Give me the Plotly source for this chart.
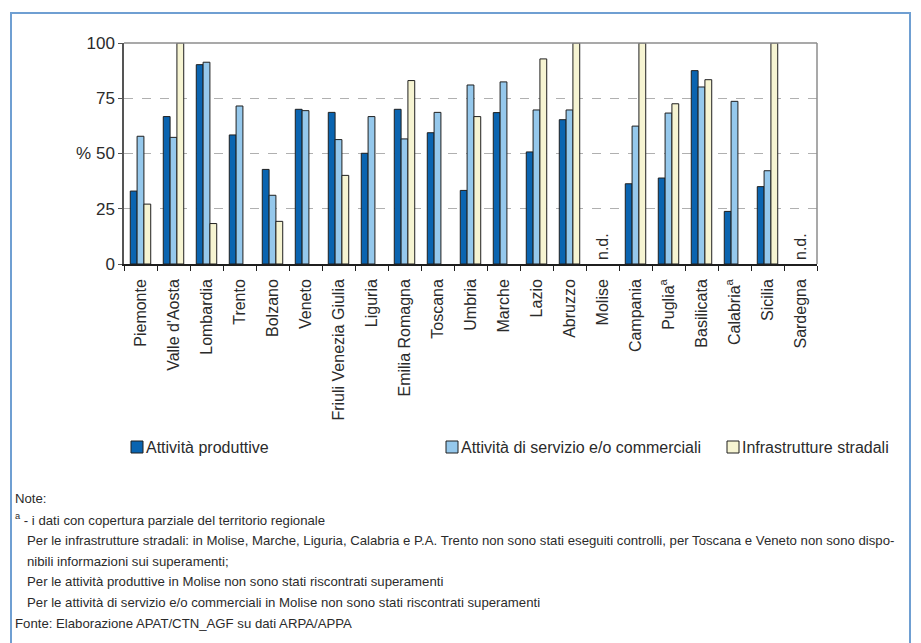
import plotly.graph_objects as go

# regioni e valori (%)
regioni = ["Piemonte", "Valle d'Aosta", "Lombardia", "Trento", "Bolzano", "Veneto",
           "Friuli Venezia Giulia", "Liguria", "Emilia Romagna", "Toscana", "Umbria",
           "Marche", "Lazio", "Abruzzo", "Molise", "Campania", "Puglia<sup>a</sup>",
           "Basilicata", "Calabria<sup>a</sup>", "Sicilia", "Sardegna"]

produttive = [33, 66.7, 90.2, 58.4, 42.8, 70, 68.6, 50.1, 70, 59.4, 33.3,
              68.5, 50.7, 65.3, None, 36.3, 38.9, 87.5, 23.8, 35, None]
servizio = [57.8, 57.3, 91.3, 71.5, 31.1, 69.4, 56.3, 66.7, 56.6, 68.6, 81,
            82.4, 69.7, 69.7, None, 62.4, 68.3, 80.1, 73.6, 42.2, None]
stradali = [27.1, 100, 18.3, None, 19.3, None, 40.1, None, 83, None, 66.7,
            None, 92.8, 100, None, 100, 72.5, 83.4, None, 100, None]

serie = ["Attività produttive", "Attività di servizio e/o commerciali", "Infrastrutture stradali"]
colori = ["#0a64b0", "#95c8ec", "#f6f4d2"]
nd = ["Molise", "Sardegna"]

font_chart = "Liberation Sans, Arial, sans-serif"
font_note = "Liberation Sans, Arial, sans-serif"
testo = "#2b2b2b"

fig = go.Figure()
for nome, vals, col in zip(serie, [produttive, servizio, stradali], colori):
    fig.add_trace(go.Bar(x=regioni, y=vals, name=nome,
                         marker=dict(color=col, line=dict(color="#1f1f1f", width=1)),
                         showlegend=False))

# la pagina ha 8px di margine: coordinate della figura = pagina - 8
W, H = 913, 635
L, R, T, B = 116, 809, 35, 256
def px(x):
    return (x - L) / (R - L)
def py(y):
    return (B - y) / (B - T)

shapes = []
# bordo superiore e destro dell'area grafico
shapes.append(dict(type="line", xref="paper", yref="paper", x0=0, x1=1, y0=1, y1=1,
                   line=dict(color="#8c8c8c", width=1.5)))
shapes.append(dict(type="line", xref="paper", yref="paper", x0=1, x1=1, y0=0, y1=1,
                   line=dict(color="#8c8c8c", width=1.5)))
# cornice blu
shapes.append(dict(type="path", xref="paper", yref="paper",
                   path="M %f,%f L %f,%f L %f,%f L %f,%f" % (px(3), py(660), px(3), py(5),
                                                            px(902), py(5), px(902), py(660)),
                   line=dict(color="#6f9fd2", width=2)))

annotations = []
# n.d.
for r in nd:
    annotations.append(dict(x=r, y=0, xref="x", yref="y", text="n.d.", textangle=-90,
                            showarrow=False, yanchor="bottom", yshift=2,
                            font=dict(family=font_chart, size=16, color=testo)))
annotations.append(dict(x=px(85), y=50, xref="paper", yref="y", text="%", showarrow=False,
                        xanchor="right", font=dict(family=font_chart, size=17, color=testo)))

# legenda
leg_x = [123, 438, 719]
for nome, col, x0 in zip(serie, colori, leg_x):
    shapes.append(dict(type="rect", xref="paper", yref="paper",
                       x0=px(x0), x1=px(x0 + 12), y0=py(445), y1=py(433),
                       fillcolor=col, line=dict(color="#1f1f1f", width=1)))
    annotations.append(dict(x=px(x0 + 13), y=py(439), xref="paper", yref="paper", text=nome,
                            showarrow=False, xanchor="left", yanchor="middle",
                            font=dict(family=font_chart, size=16, color=testo)))

# note
note = ["Note:",
        "<sup>a</sup> - i dati con copertura parziale del territorio regionale",
        "   Per le infrastrutture stradali: in Molise, Marche, Liguria, Calabria e P.A. Trento non sono stati eseguiti controlli, per Toscana e Veneto non sono dispo-",
        "   nibili informazioni sui superamenti;",
        "   Per le attività produttive in Molise non sono stati riscontrati superamenti",
        "   Per le attività di servizio e/o commerciali in Molise non sono stati riscontrati superamenti",
        "Fonte: Elaborazione APAT/CTN_AGF su dati ARPA/APPA"]
for i, riga in enumerate(note):
    ind = 17 if riga.startswith("   ") else 5
    annotations.append(dict(x=px(ind), y=py(491 + i * 20.7), xref="paper", yref="paper",
                            text=riga.strip(), showarrow=False, xanchor="left", yanchor="middle",
                            font=dict(family=font_note, size=13.2, color=testo)))

fig.update_layout(
    width=W, height=H,
    margin=dict(l=L, r=W - R, t=T, b=H - B),
    paper_bgcolor="white", plot_bgcolor="white",
    barmode="group", bargap=0.38, bargroupgap=0,
    font=dict(family=font_chart, color=testo),
    shapes=shapes, annotations=annotations,
    xaxis=dict(type="category", tickangle=-90, showline=True, linecolor="#1f1f1f", linewidth=1.5,
               ticks="outside", ticklen=5, tickcolor="#1f1f1f", tickson="boundaries",
               showgrid=False, tickfont=dict(family=font_chart, size=16, color=testo),
               ticklabelstandoff=7),
    yaxis=dict(range=[0, 100], tickvals=[0, 25, 50, 75, 100], showline=True,
               linecolor="#555555", linewidth=1.5, ticks="outside", ticklen=4,
               tickcolor="#555555", showgrid=True, gridcolor="#b0b0b0", griddash="dash",
               gridwidth=1.2, zeroline=False,
               tickfont=dict(family=font_chart, size=17, color=testo)),
)

fig.write_html("out.html")
